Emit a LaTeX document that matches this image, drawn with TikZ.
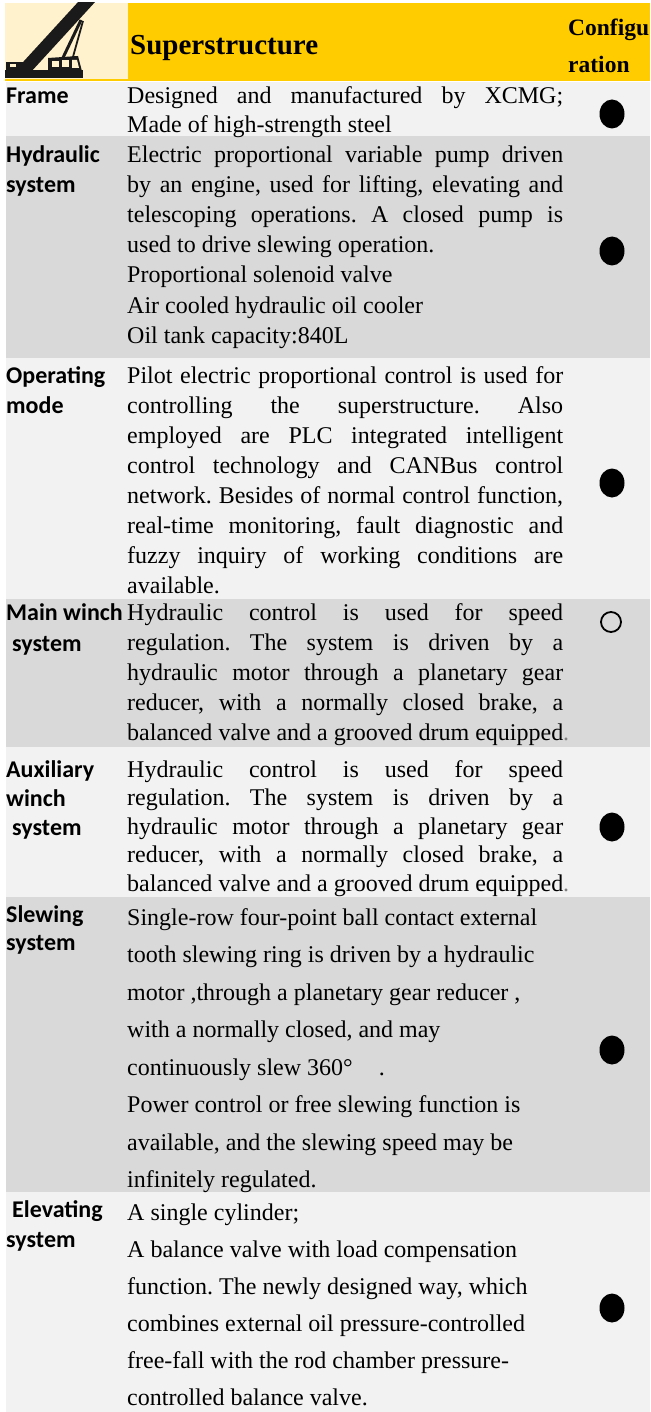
\documentclass[tikz,border=0pt]{standalone}
\usepackage{fontspec}
\setmainfont{Liberation Serif}
\newfontfamily\lblfont{Carlito}
\usetikzlibrary{shapes.geometric}
\definecolor{hdryellow}{HTML}{FFCC00}
\definecolor{hdrcream}{HTML}{FFF2CC}
\definecolor{rowlight}{HTML}{F2F2F2}
\definecolor{rowdark}{HTML}{D9D9D9}
\definecolor{inkblack}{HTML}{1A1A1A}
\newcommand\J[1]{\makebox[436pt][s]{#1}}
\newcommand\celltext[4]{\foreach \lineitem [count=\i] in {#4} {\node[body] (#1\i) at (127,{#2+(\i-1)*#3}) {\lineitem};}}
\tikzset{
  body/.style={anchor=base west, inner sep=0pt, font=\frenchspacing\fontsize{24}{28}\selectfont},
  lbl/.style={anchor=base west, inner sep=0pt, font=\lblfont\bfseries\fontsize{24}{28}\selectfont},
  hdr/.style={anchor=base west, inner sep=0pt, font=\bfseries\fontsize{29}{34}\selectfont},
  cfg/.style={anchor=base west, inner sep=0pt, font=\bfseries\fontsize{23.5}{28}\selectfont},
  fulldot/.style={ellipse, fill=black, draw=none, minimum width=25pt, minimum height=29pt, inner sep=0pt},
  opendot/.style={circle, draw=black, line width=1.8pt, minimum size=20pt, inner sep=0pt},
}
\begin{document}
\begin{tikzpicture}[x=1pt,y=-1pt]
\useasboundingbox (0,0) rectangle (650,1412);
% header
\fill[hdryellow] (5,3) rectangle (650,81);
\fill[hdrcream] (5,3) rectangle (128,79);
% rows
\fill[rowlight] (6,82) rectangle (650,136);
\fill[rowdark] (6,136) rectangle (650,358);
\fill[rowlight] (6,358) rectangle (650,599);
\fill[rowdark] (6,599) rectangle (650,747);
\fill[rowlight] (6,747) rectangle (650,897);
\fill[rowdark] (6,897) rectangle (650,1192);
\fill[rowlight] (6,1192) rectangle (650,1412);
% crane icon
\begin{scope}
\clip (5,3) rectangle (128,79);
\fill[inkblack] (13,73) -- (30,73) -- (96,1) -- (79,1) -- cycle;
\draw[inkblack, line width=3pt] (81,20) -- (60,64);
\draw[inkblack, line width=1.8pt] (83,21) -- (71,64);
\fill[inkblack] (48,58) -- (78,56) -- (83,75) -- (48,75) -- cycle;
\fill[hdrcream] (52,61) rectangle (59,67);
\fill[hdrcream] (62,60) rectangle (69,67);
\fill[hdrcream] (72,60) -- (77,60) -- (79,68) -- (72,68) -- cycle;
\fill[inkblack] (5,70) rectangle (83,78);
\fill[inkblack] (6,62) rectangle (23,72);
\fill[hdrcream] (10,64) rectangle (16,67);
\end{scope}
\node[hdr] (title) at (130,55) {Superstructure};
\node[cfg] (cfgA) at (568,36) {Configu};
\node[cfg] (cfgB) at (568,73) {ration};
% labels
\node[lbl] (lFrame) at (6,104) {Frame};
\node[lbl] (lHydA) at (6,163) {Hydraulic};
\node[lbl] (lHydB) at (6,193) {system};
\node[lbl] (lOpA) at (6,383) {Operating};
\node[lbl] (lOpB) at (6,413) {mode};
\node[lbl] (lMainA) at (6,620) {Main winch};
\node[lbl] (lMainB) at (12,651) {system};
\node[lbl] (lAuxA) at (6,777) {Auxiliary};
\node[lbl] (lAuxB) at (6,806) {winch};
\node[lbl] (lAuxC) at (12,835) {system};
\node[lbl] (lSlewA) at (6,922) {Slewing};
\node[lbl] (lSlewB) at (6,950) {system};
\node[lbl] (lElevA) at (12,1217) {Elevating};
\node[lbl] (lElevB) at (6,1247) {system};
% texts
\celltext{fr}{104}{29}{{\J{Designed and manufactured by XCMG;}},{Made of high-strength steel}}
\celltext{hy}{163}{30}{{\J{Electric proportional variable pump driven}},{\J{by an engine, used for lifting, elevating and}},{\J{telescoping operations. A closed pump is}},{used to drive slewing operation.},{Proportional solenoid valve},{Air cooled hydraulic oil cooler},{Oil tank capacity:840L}}
\celltext{op}{383}{30}{{\J{Pilot electric proportional control is used for}},{\J{controlling the superstructure. Also}},{\J{employed are PLC integrated intelligent}},{\J{control technology and CANBus control}},{\J{network. Besides of normal control function,}},{\J{real-time monitoring, fault diagnostic and}},{\J{fuzzy inquiry of working conditions are}},{available.}}
\celltext{mw}{620}{30}{{\J{Hydraulic control is used for speed}},{\J{regulation. The system is driven by a}},{\J{hydraulic motor through a planetary gear}},{\J{reducer, with a normally closed brake, a}},{\J{balanced valve and a grooved drum equipped}\rlap{\color{gray}.}}}
\celltext{aw}{777}{28.5}{{\J{Hydraulic control is used for speed}},{\J{regulation. The system is driven by a}},{\J{hydraulic motor through a planetary gear}},{\J{reducer, with a normally closed brake, a}},{\J{balanced valve and a grooved drum equipped}\rlap{\color{gray}.}}}
\celltext{sw}{925}{37.5}{{Single-row four-point ball contact external},{tooth slewing ring is driven by a hydraulic},{motor ,through a planetary gear reducer ,},{with a normally closed, and may},{continuously slew 360°\hspace{26pt}.},{Power control or free slewing function is},{available, and the slewing speed may be},{infinitely regulated.}}
\celltext{el}{1220}{37}{{A single cylinder;},{A balance valve with load compensation},{function. The newly designed way, which},{combines external oil pressure-controlled},{free-fall with the rod chamber pressure-},{controlled balance valve.}}
% configuration marks
\node[fulldot] (dFrame) at (612,114) {};
\node[fulldot] (dHyd) at (612,251) {};
\node[fulldot] (dOp) at (612,483) {};
\node[opendot] (dMain) at (611,622) {};
\node[fulldot] (dAux) at (612,827) {};
\node[fulldot] (dSlew) at (612,1050) {};
\node[fulldot] (dElev) at (612,1308) {};
\end{tikzpicture}
\end{document}
